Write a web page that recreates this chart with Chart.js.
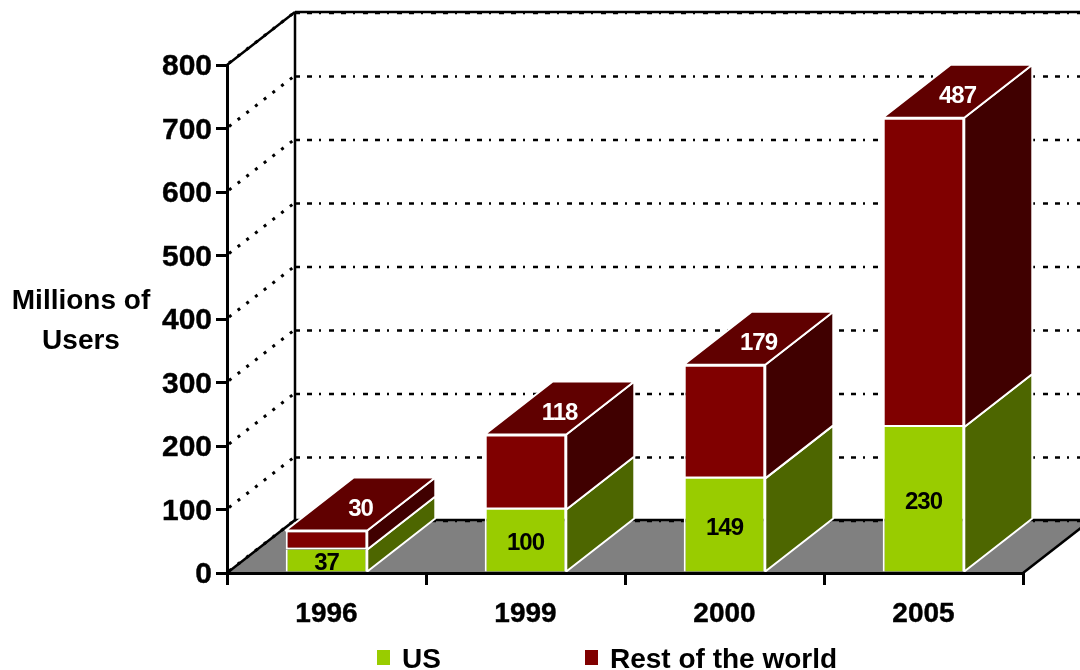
<!DOCTYPE html>
<html>
<head>
<meta charset="utf-8">
<style>
  html, body { margin: 0; padding: 0; background: #fff; overflow: hidden; }
  canvas { display: block; }
</style>
<script src="https://cdn.jsdelivr.net/npm/chart.js@4"></script>
</head>
<body>
<canvas id="myChart" width="1080" height="670"></canvas>
<script>
var years = ['1996', '1999', '2000', '2005'];
var usValues = [37, 100, 149, 230];
var restValues = [30, 118, 179, 487];
var seriesNames = ['US', 'Rest of the world'];
var axisTitle = ['Millions of', 'Users'];

var FONT = '"Liberation Sans", Arial, sans-serif';
var DX = 68;   // depth of the fake 3d box
var DY = 53;

var faceColors = [
    { front: '#99cc00', side: '#4d6600' },
    { front: '#800000', side: '#400000', top: '#600000' }
];

function line(ctx, x1, y1, x2, y2) {
    ctx.beginPath();
    ctx.moveTo(x1, y1);
    ctx.lineTo(x2, y2);
    ctx.stroke();
}

function poly(ctx, pts, fill) {
    ctx.beginPath();
    ctx.moveTo(pts[0][0], pts[0][1]);
    for (var i = 1; i < pts.length; i++) ctx.lineTo(pts[i][0], pts[i][1]);
    ctx.closePath();
    ctx.fillStyle = fill;
    ctx.fill();
    ctx.strokeStyle = '#fff';
    ctx.lineWidth = 2;
    ctx.stroke();
}

// floor and walls, has to go under the axes
var wallsPlugin = {
    id: 'walls',
    afterUpdate: function (chart) {
        // liberation sits high on the middle baseline, push the y labels down a bit
        chart.scales.y.getLabelItems().forEach(function (item) {
            item.options.translation[1] += 2;
        });
    },
    beforeDraw: function (chart) {
        var ctx = chart.ctx, a = chart.chartArea, y = chart.scales.y;
        ctx.save();
        ctx.fillStyle = '#fff';
        ctx.fillRect(0, 0, chart.width, chart.height);

        ctx.beginPath();
        ctx.moveTo(a.left, a.bottom);
        ctx.lineTo(a.right, a.bottom);
        ctx.lineTo(a.right + DX, a.bottom - DY);
        ctx.lineTo(a.left + DX, a.bottom - DY);
        ctx.closePath();
        ctx.fillStyle = '#808080';
        ctx.fill();

        ctx.strokeStyle = '#000';
        y.ticks.forEach(function (t) {
            var py = y.getPixelForValue(t.value);
            ctx.lineWidth = 2.5;
            ctx.setLineDash([5, 7, 5, 7, 2, 8]);
            line(ctx, a.left + DX, py - DY + 1, chart.width, py - DY + 1);
            ctx.lineWidth = 3;
            ctx.setLineDash([3, 8]);
            line(ctx, a.left + 2, py - 2, a.left + DX, py - DY);
        });

        ctx.setLineDash([]);
        ctx.lineWidth = 2.5;
        [y.min, y.max].forEach(function (v) {
            var py = y.getPixelForValue(v);
            line(ctx, a.left, py, a.left + DX, py - DY);
            line(ctx, a.left + DX, py - DY, chart.width, py - DY);
        });
        line(ctx, a.left + DX, a.top - DY, a.left + DX, a.bottom - DY);
        line(ctx, a.right, a.bottom, a.right + DX, a.bottom - DY);
        ctx.restore();
    }
};

// side and top faces of the bars, taken from the bar elements
var boxPlugin = {
    id: 'boxes',
    beforeDatasetsDraw: function (chart) {
        var ctx = chart.ctx;
        ctx.save();
        ctx.lineJoin = 'round';
        chart.data.datasets.forEach(function (ds, d) {
            chart.getDatasetMeta(d).data.forEach(function (bar) {
                var p = bar.getProps(['x', 'y', 'base', 'width'], true);
                var l = p.x - p.width / 2, r = p.x + p.width / 2;
                poly(ctx, [[r, p.y], [r + DX, p.y - DY], [r + DX, p.base - DY], [r, p.base]], faceColors[d].side);
                if (d === chart.data.datasets.length - 1) {
                    poly(ctx, [[l, p.y], [l + DX, p.y - DY], [r + DX, p.y - DY], [r, p.y]], faceColors[d].top);
                }
            });
        });
        ctx.restore();
    },
    afterDatasetsDraw: function (chart) {
        var ctx = chart.ctx;
        ctx.save();
        ctx.textAlign = 'center';
        ctx.textBaseline = 'middle';
        ctx.font = 'bold 24px ' + FONT;
        ctx.letterSpacing = '-1px';

        chart.getDatasetMeta(0).data.forEach(function (bar, i) {
            var p = bar.getProps(['x', 'y', 'base'], true);
            ctx.fillStyle = '#000';
            ctx.fillText(usValues[i], p.x, (p.y + p.base) / 2 + 3);
        });
        chart.getDatasetMeta(1).data.forEach(function (bar, i) {
            var p = bar.getProps(['x', 'y'], true);
            ctx.fillStyle = '#fff';
            ctx.fillText(restValues[i], p.x + 34, p.y - 21);
        });
        ctx.letterSpacing = '0px';

        // axis title
        ctx.fillStyle = '#000';
        ctx.font = 'bold 28px ' + FONT;
        ctx.fillText(axisTitle[0], 81, 301);
        ctx.fillText(axisTitle[1], 81, 341);

        // legend
        ctx.textAlign = 'left';
        var legendX = [377, 585];
        seriesNames.forEach(function (name, i) {
            ctx.fillStyle = faceColors[i].front;
            ctx.fillRect(legendX[i], 650, 13, 15);
            ctx.fillStyle = '#000';
            ctx.fillText(name, legendX[i] + 25, 660);
        });
        ctx.restore();
    }
};

var ctx = document.getElementById('myChart').getContext('2d');

var myChart = new Chart(ctx, {
    type: 'bar',
    data: {
        labels: years,
        datasets: [{
            label: seriesNames[0],
            data: usValues,
            backgroundColor: faceColors[0].front,
            borderColor: '#fff',
            borderWidth: { left: 2, right: 2, top: 0, bottom: 0 },
            borderSkipped: false,
            categoryPercentage: 0.41,
            barPercentage: 1
        }, {
            label: seriesNames[1],
            data: restValues,
            backgroundColor: faceColors[1].front,
            borderColor: '#fff',
            borderWidth: 2,
            borderSkipped: false,
            categoryPercentage: 0.41,
            barPercentage: 1
        }]
    },
    options: {
        responsive: false,
        animation: false,
        devicePixelRatio: 1,
        layout: { padding: { top: 65, right: 57, left: 0, bottom: 0 } },
        plugins: {
            legend: { display: false },
            tooltip: { enabled: false },
            title: { display: false }
        },
        scales: {
            x: {
                stacked: true,
                afterFit: function (s) { s.height = 97; },
                grid: { drawOnChartArea: false, color: '#000', lineWidth: 3, tickLength: 12 },
                border: { color: '#000', width: 3, z: 1 },
                ticks: {
                    color: '#000', padding: 12, maxRotation: 0,
                    textStrokeColor: '#000', textStrokeWidth: 0.4,
                    font: { family: FONT, size: 28, weight: 'bold' }
                }
            },
            y: {
                stacked: true,
                min: 0,
                max: 800,
                afterFit: function (s) { s.width = 227; },
                grid: { drawOnChartArea: false, color: '#000', lineWidth: 3, tickLength: 11 },
                border: { color: '#000', width: 3, z: 1 },
                ticks: {
                    stepSize: 100, color: '#000', padding: 4,
                    textStrokeColor: '#000', textStrokeWidth: 0.4,
                    font: { family: FONT, size: 30, weight: 'bold' }
                }
            }
        }
    },
    plugins: [wallsPlugin, boxPlugin]
});
</script>
</body>
</html>
